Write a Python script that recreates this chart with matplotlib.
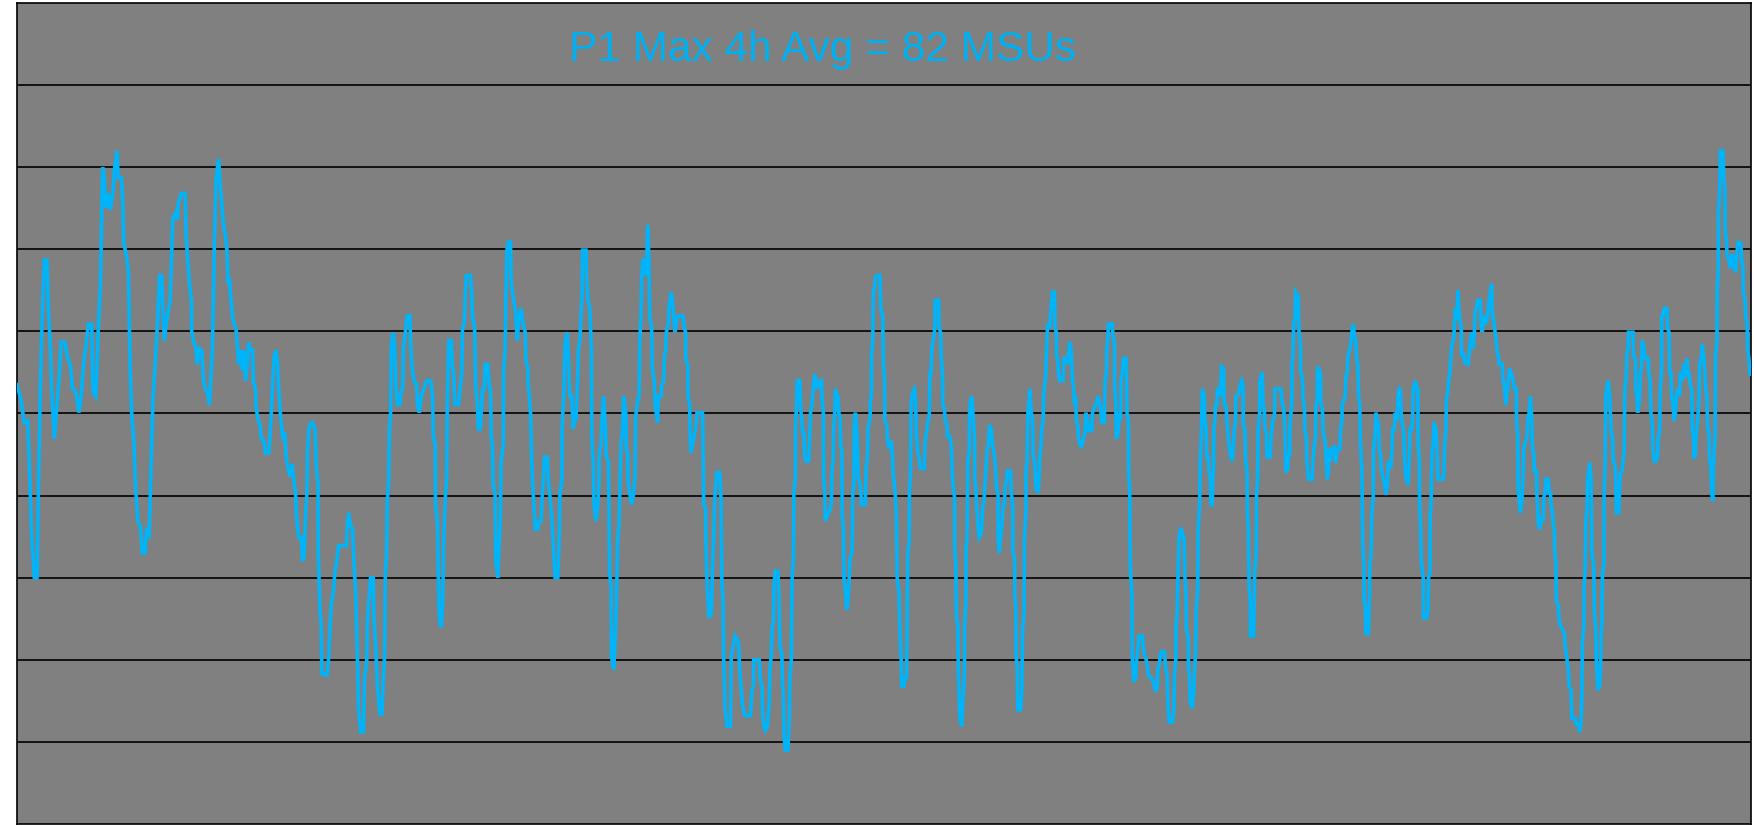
import matplotlib
matplotlib.use("Agg")
import matplotlib.pyplot as plt

# Hourly MSU consumption over the month (hour index, MSUs)
hours = [
    0, 1.7, 3.0, 4.4, 5.0, 6.1, 7.2, 8.3, 8.9, 9.7, 10.5, 11.3, 12.4, 13.0, 13.8, 14.4, 15.5, 16.3, 17.4, 18.3,
    19.9, 21.0, 22.1, 23.0, 24.3, 25.7, 26.6, 27.5, 28.8, 29.6, 31.0, 31.5, 32.6, 33.2, 33.7, 34.6, 35.1, 35.5,
    36.2, 36.8, 37.9, 38.7, 39.8, 40.4, 41.4, 42.0, 43.3, 43.8, 44.3, 45.4, 46.2, 46.9, 47.6, 48.4, 49.2, 50.1,
    51.2, 52.0, 53.1, 53.7, 54.8, 55.6, 56.4, 57.3, 58.4, 59.1, 60.0, 60.3, 61.1,
    61.4, 62.3, 63.5, 64.1, 64.6, 65.5, 65.9, 66.5, 66.9, 67.6, 68.0, 69.7, 70.1, 70.6, 71.5, 72.3, 72.4, 73.1,
    74.2, 74.7, 75.6, 76.6, 77.3, 78.1, 78.9, 79.8, 80.3, 81.0, 81.4, 81.8, 82.5, 83.1, 83.6, 84.2, 85.0, 85.6,
    86.4, 87.0, 87.5, 88.1, 88.6, 89.3, 90.0, 90.8, 91.4, 91.9, 92.5, 93.3, 94.1, 94.7, 95.5, 96.1, 96.6, 97.7,
    98.0, 98.9, 99.1, 100.0, 100.8, 101.3, 102.4, 103.0, 104.4, 104.9, 105.5, 106.0, 106.6, 107.4, 108.0, 108.5,
    109.4, 110.2, 111.0, 111.6, 112.4, 113.2, 114.1, 114.6, 115.5, 116.0, 116.8, 117.9, 118.4, 119.0, 119.6,
    120.2, 120.4, 121.0,
    121.3, 122.5, 123.6, 124.1, 124.8, 124.9, 125.6, 126.1, 126.4, 128.5, 129.2, 129.7, 130.3, 131.1, 131.9,
    132.6, 133.3, 136.6, 136.9, 137.5, 138.3, 139.1, 139.7, 140.5, 141.1, 141.6, 142.5, 143.6, 144.1, 145.0,
    145.2, 145.8, 146.6, 147.7, 148.0, 148.8, 149.4, 150.5, 151.3, 151.9, 152.4, 152.7, 153.2, 153.5, 154.1,
    154.4, 154.9, 155.2, 156.0, 156.6, 157.1, 157.7, 158.8, 159.1, 159.9, 160.2, 161.0, 161.8, 162.9, 163.2,
    163.8, 164.6, 165.7, 166.0, 166.8, 167.6, 168.7, 169.8, 171.5, 172.3, 172.6, 173.4, 173.5, 174.3, 174.5,
    175.1, 175.9, 176.5, 176.9, 177.6, 178.1, 178.4, 179.0, 180.1, 180.4, 181.0,
    181.4, 181.6, 183.0, 183.6, 184.4, 184.7, 185.5, 185.8, 186.3, 188.0, 188.6, 188.8, 189.7, 190.2, 190.8,
    191.3, 192.1, 193.0, 193.8, 194.1, 195.2, 195.7, 196.3, 196.6, 197.1, 197.4, 198.2, 198.5, 199.3, 199.9,
    200.4, 200.7, 201.6, 201.7, 202.4, 202.7, 203.2, 203.8, 204.6, 204.9, 205.7, 206.5, 206.8, 207.4, 208.2,
    209.0, 209.9, 210.7, 211.0, 211.8, 211.9, 212.3, 212.9, 213.4, 214.0, 214.6, 214.8, 215.9, 216.2, 217.3,
    217.6, 218.2, 218.7, 219.8, 220.4, 221.2, 222.0, 222.6, 223.1, 224.2, 224.8, 225.1, 225.9, 226.0, 226.7,
    227.3, 228.1, 228.7, 229.2, 230.0, 230.6, 231.1, 231.7, 232.3, 232.8, 233.4, 233.6, 234.2, 234.5, 235.9,
    236.1, 236.7, 237.5, 238.1, 238.3, 238.9, 239.2, 240.0,
    240.7, 241.3, 241.4, 242.1, 242.7, 243.2, 244.0, 244.3, 245.2, 245.4, 245.7, 246.3, 246.5, 247.4, 247.9,
    248.5, 249.0, 249.6, 249.9, 250.4, 251.0, 251.5, 252.4, 252.6, 253.2, 253.3, 254.0, 254.8, 255.7, 256.2,
    256.5, 257.3, 257.9, 258.2, 258.7, 259.0, 259.5, 260.4, 260.6, 260.9, 261.5, 262.0, 262.3, 263.1, 263.4,
    264.2, 264.5, 265.6, 265.9, 267.0, 267.3, 268.1, 268.4, 268.9, 269.2, 270.1, 270.3, 271.2, 271.7, 272.3,
    272.8, 273.6, 274.5, 276.1, 276.7, 277.2, 277.3, 278.1, 278.2, 278.9, 279.0, 279.5, 280.0, 280.8, 281.7,
    281.9, 284.2, 284.4, 284.7, 285.5, 285.6, 286.1, 286.9, 287.8, 288.3, 288.9, 289.4, 290.2, 291.4, 291.9,
    292.2, 292.7, 293.0, 293.6, 294.4, 295.8, 296.1, 296.9, 297.7, 299.1, 299.6,
    300.8, 301.7, 304.1, 304.7, 305.3, 305.4, 307.7, 308.3, 308.9, 309.1, 309.7, 310.2, 311.1, 311.9, 312.2,
    312.7, 313.0, 313.6, 313.8, 314.4, 315.5, 316.0, 316.3, 317.1, 317.4, 317.7, 318.0, 318.5, 319.6, 320.2,
    320.5, 321.0, 321.3, 321.9, 322.1, 322.7, 322.8, 323.2, 323.5, 324.6, 324.9, 325.4, 325.7, 326.3, 326.6,
    327.1, 328.2, 328.5, 329.0, 329.6, 330.1, 330.7, 331.3, 331.8, 332.6, 333.5, 333.7, 334.3, 334.4, 334.9,
    335.1, 336.0, 336.8, 337.6, 337.9, 338.4, 338.5, 339.0, 339.3, 339.8, 340.4, 340.7, 341.2, 341.5, 342.0,
    342.1, 342.6, 342.9, 343.4, 344.0, 344.5, 345.1, 345.4, 346.2, 346.5, 347.0, 347.1, 347.6, 348.1, 348.4,
    348.7, 349.2, 349.8, 350.1, 351.7, 352.0, 352.6, 352.8, 353.7, 353.8, 354.2, 354.3, 354.8, 355.0, 355.6,
    355.9, 356.4, 357.8, 358.1, 358.9, 359.2, 359.7, 359.8, 360.6, 360.9, 361.7,
    362.4, 363.0, 363.2, 364.1, 364.6, 364.9, 365.7, 366.0, 366.6, 366.8, 367.7, 367.9, 368.8, 369.1, 369.3,
    369.9, 370.0, 370.4, 370.7, 371.3, 372.1, 372.6, 372.9, 373.5, 374.0, 374.6, 376.2, 376.5, 377.1, 377.6,
    378.2, 378.5, 379.0, 379.3, 379.8, 380.4, 380.7, 382.1, 382.3, 382.9, 383.2, 383.7, 383.8, 384.5, 384.8,
    385.6, 385.7, 386.8, 387.3, 387.9, 388.7, 388.8, 389.2, 389.5, 390.1, 390.3, 390.9, 391.7, 392.3, 392.8,
    392.9, 393.4, 393.5, 393.9, 394.2, 394.8, 394.9, 395.3, 395.9, 396.4, 397.0, 397.1, 397.5, 397.8, 398.4,
    398.9, 399.8, 400.3, 400.9, 401.1, 401.7, 402.2, 402.8, 403.1, 403.9, 404.5, 405.3, 405.8, 406.1, 406.7,
    406.8, 407.2, 407.8, 408.3, 408.9, 409.4, 409.7, 410.3, 410.5, 411.9, 412.2, 412.8, 412.9, 413.6, 413.7,
    414.1, 414.2, 414.7, 414.9, 416.1, 416.6, 416.9, 417.5, 417.7, 418.3, 418.4, 418.8, 419.1, 419.7, 419.9,
    420.5, 421.1, 421.3, 421.9, 422.4,
    422.6, 423.2, 423.7, 424.0, 424.6, 424.8, 425.4, 425.7, 426.5, 426.8, 427.3, 428.1, 428.7, 429.3, 430.1,
    430.4, 430.9, 431.0, 431.5, 431.7, 432.3, 433.7, 433.9, 435.1, 435.6, 436.4, 437.0, 437.6, 438.1, 438.4,
    438.9, 439.2, 439.8, 440.0, 440.6, 441.4, 442.3, 442.8, 443.1, 443.9, 444.2, 445.6, 445.9, 446.7, 447.5,
    448.1, 448.9, 449.4, 449.7, 450.8, 451.1, 451.7, 451.8, 452.2, 452.5, 454.1, 454.4, 455.0, 455.1, 455.5,
    455.8, 456.6, 456.9, 457.5, 457.7, 458.3, 458.6, 459.9, 460.2, 460.8, 460.9, 461.3, 461.6, 462.2, 462.4,
    463.0, 463.8, 464.1, 464.7, 465.2, 466.6, 467.1, 467.7, 468.2, 468.8, 469.1, 470.2, 470.7, 471.6, 472.1,
    472.7, 472.9, 473.5, 474.1, 474.6, 475.7, 476.3, 476.8, 477.1, 477.7, 479.0, 479.6, 479.9, 480.4, 480.5,
    481.0, 481.3, 481.8, 482.4,
    482.8, 483.4, 483.9, 484.2, 484.7, 484.8, 485.6, 485.7, 486.1, 486.4, 487.2, 487.8, 488.1, 488.6, 488.9,
    489.5, 489.7, 490.3, 490.6, 491.1, 491.4, 492.2, 492.5, 493.0, 493.3, 493.9, 494.2, 494.7, 495.0, 495.5,
    495.8, 496.1, 496.2, 496.6, 496.9, 497.5, 497.7, 498.6, 498.9, 499.4, 500.2, 500.5, 501.3, 501.6, 502.2,
    502.5, 503.0, 503.6, 504.1, 504.7, 505.2, 505.3, 506.3, 507.2, 507.7, 508.3, 508.4, 509.1, 509.4, 510.0,
    510.1, 510.5, 510.8, 511.3, 511.4, 512.7, 513.0, 513.2, 513.8, 513.9, 514.3, 514.6, 515.2, 515.3, 515.7,
    516.3, 516.6, 517.1, 517.4, 518.0, 518.2, 519.6, 519.9, 520.4, 520.5, 521.3, 521.5, 524.0, 524.6, 525.1,
    525.7, 526.0, 526.8, 527.1, 527.6, 527.9, 528.5, 528.6, 529.0, 529.3, 529.8, 530.1, 531.2, 531.5, 532.1,
    532.2, 532.9, 533.2, 533.7, 534.0, 534.6, 534.7, 535.1, 535.4, 537.0, 537.3, 537.9, 538.4, 538.5, 539.0,
    539.2, 540.4, 540.6, 541.2, 541.5, 542.3, 542.8,
    543.2, 543.7, 544.0, 544.6, 545.1, 546.2, 546.8, 547.3, 548.5, 548.7, 549.3, 549.4, 550.1, 550.7, 550.9,
    551.5, 551.8, 552.6, 553.1, 553.4, 554.0, 554.5, 555.1, 555.4, 555.9, 556.2, 556.7, 557.0, 557.6, 557.9,
    558.4, 558.5, 559.0, 559.2, 560.3, 560.6, 560.9, 561.4, 561.7, 562.3, 562.4, 563.1, 563.4, 564.0, 564.5,
    564.8, 565.3, 565.6, 566.2, 567.0, 567.5, 568.1, 568.6, 569.5, 570.0, 570.3, 571.1, 571.4, 572.2, 572.5,
    573.1, 573.6, 573.9, 574.5, 575.0, 575.3, 575.8, 576.7, 577.2, 577.5, 578.3, 578.6, 578.9, 579.7, 580.3,
    580.8, 580.9, 581.4, 581.5, 581.9, 582.2, 583.0, 583.1, 584.4, 585.0, 585.2, 585.8, 585.9, 586.3, 586.6,
    587.2, 587.4, 588.3, 588.6, 588.8, 589.1, 591.3, 591.6, 591.9, 592.4, 592.7, 593.3, 593.5, 594.1, 594.4,
    594.9, 595.5, 595.8, 596.3, 596.9, 597.4, 598.0, 598.8, 598.9, 599.6, 600.2, 601.6,
    602.6, 603.1, 603.7, 604.2, 604.5, 605.0, 605.6, 606.7, 607.0, 607.5, 608.1, 609.2, 609.8, 610.3, 610.9,
    611.4, 611.7, 612.2, 612.8, 613.3, 613.6, 614.2, 614.5, 615.8, 616.1, 616.7, 617.2, 617.8, 618.3, 618.9,
    619.4, 620.3, 620.8, 621.6, 621.7, 622.2, 622.3, 622.8, 623.3, 623.9, 624.4, 624.7, 625.5, 626.1, 626.3,
    626.9, 627.5, 628.0, 628.3, 628.8, 629.1, 630.0, 630.1, 630.5, 630.8, 631.3, 632.2, 632.7, 633.0, 633.5,
    633.8, 634.9, 635.2, 635.8, 636.0, 636.6, 636.9, 637.4, 637.5, 638.0, 638.2, 639.1, 639.2, 639.6, 639.9,
    640.7, 641.6, 641.8, 642.4, 642.7, 643.2, 643.5, 644.3, 644.6, 646.0, 646.3, 647.4, 647.9, 648.5, 648.8,
    649.0, 649.6, 649.7, 650.1, 650.4, 650.9, 651.2, 652.1, 652.6, 652.9, 653.7, 654.0, 654.6, 654.8, 655.4,
    656.2, 656.5, 656.8, 657.1, 657.3, 657.9, 658.0, 658.4, 658.7, 659.3, 659.8, 660.4, 660.9, 661.5, 661.8,
    662.6, 662.9, 663.1,
    664.1, 664.4, 664.7, 665.5, 665.8, 666.3, 666.6, 667.2, 667.5, 668.0, 668.1, 670.0, 670.1, 671.0, 671.1,
    671.6, 671.9, 672.7, 673.0, 673.5, 673.8, 674.6, 674.9, 676.3, 676.6, 677.1, 677.4, 678.0, 678.2, 678.8,
    679.6, 680.2, 680.5, 681.0, 681.3, 681.8, 681.9, 682.4, 682.9, 684.1, 684.3, 684.9, 685.2, 685.7, 686.0,
    686.5, 687.1, 687.6, 687.9, 688.5, 689.3, 689.6, 690.4, 691.0, 691.8, 692.3, 692.6, 693.2, 693.7, 694.3,
    694.6, 695.1, 695.2, 695.7, 696.0, 696.5, 696.8, 697.3, 697.6, 698.4, 698.7, 699.3, 699.8, 700.1, 700.6,
    700.9, 701.5, 701.7, 702.3, 702.6, 703.1, 703.4, 704.0, 704.2, 704.8, 704.9, 705.3, 705.4, 705.9, 706.2,
    707.3, 707.6, 708.1, 708.2, 708.7, 709.0, 709.8, 710.3, 710.9, 711.4, 712.0, 712.5, 713.1, 713.6, 714.7,
    715.0, 715.6, 715.7, 716.4, 716.7, 717.3, 717.5, 718.1, 718.4, 718.9,
]

msus = [
    53.5, 51.6, 48.9, 49.1, 45.0, 34.9, 30.0, 30.0, 41.3, 53.5, 62.4, 68.7, 68.7, 62.8, 58.4, 52.6, 46.9, 50.1, 54.0, 58.7,
    58.7, 56.7, 56.0, 53.0, 52.8, 50.1, 52.1, 55.7, 58.9, 60.9, 60.9, 52.6, 52.1, 56.0, 60.4, 65.8, 73.6, 80.0,
    78.7, 75.1, 76.8, 74.8, 77.0, 79.7, 82.0, 78.7, 78.7, 76.1, 70.7, 69.2, 67.2, 55.5, 49.6, 46.9, 40.8, 36.9,
    36.2, 33.0, 33.0, 35.7, 35.2, 44.2, 52.1, 56.0, 61.9, 66.8, 66.8, 63.8, 58.9,
    59.9, 61.9, 63.8, 69.2, 73.9, 73.9, 74.8, 73.6, 75.8, 76.1, 76.8, 76.8, 72.1, 69.4, 65.8, 63.8, 60.1, 58.9,
    57.9, 56.0, 57.9, 57.7, 54.0, 53.0, 52.6, 51.1, 54.0, 57.9, 63.8, 70.2, 78.5, 80.0, 81.0, 78.0, 75.1, 73.1,
    71.7, 70.2, 65.8, 66.5, 64.3, 61.9, 60.9, 60.4, 57.9, 56.0, 57.7, 55.3, 57.7, 54.0, 56.0, 58.7, 57.7, 57.7,
    53.8, 53.0, 50.8, 49.1, 48.6, 46.9, 46.7, 45.2, 45.2, 47.2, 50.6, 54.0, 57.0, 57.7, 56.0, 53.0,
    49.1, 47.2, 47.7, 44.7, 43.3, 42.3, 43.8, 42.3, 40.3, 36.9, 34.9, 34.9, 32.0, 32.5, 37.4,
    40.3, 45.2, 48.1,
    48.6, 48.9, 48.1, 43.3, 41.3, 33.0, 26.1, 24.2, 18.3, 18.1, 20.2, 23.7, 26.9, 28.1, 31.0,
    32.0, 33.9, 33.9, 36.2, 37.9, 36.4, 35.9, 32.0, 27.6, 20.7, 13.9, 11.2, 11.2, 17.8, 19.8,
    24.2, 26.9, 30.0, 30.0, 25.1, 21.2, 16.8, 13.4, 13.4, 17.8, 20.3, 30.5, 32.5, 39.3, 41.8,
    48.1, 50.1, 58.4, 59.9, 57.9, 53.5, 51.1, 51.1, 52.6, 53.0, 57.9, 59.9, 61.9, 61.9, 58.4,
    55.5, 54.0, 53.5, 51.1, 50.1, 52.1, 53.0, 54.0, 54.0, 52.1, 47.2, 46.2, 38.9, 36.9, 32.0,
    25.1, 23.9, 27.1, 34.4, 39.8, 41.8, 51.1, 58.9, 58.9, 56.0, 55.0,
    52.1, 51.1, 51.1, 52.6, 55.0, 60.4, 61.1, 64.3, 66.8, 66.8, 64.3, 61.9, 60.4, 53.0, 51.6,
    48.1, 48.1, 53.0, 53.0, 56.0, 56.0, 53.5, 53.0, 47.2, 46.2, 41.3, 40.3, 32.0, 30.0, 33.9,
    37.4, 44.2, 46.2, 55.0, 57.9, 64.3, 70.2, 70.9, 70.9, 65.8, 64.3, 62.8, 61.9, 58.9, 61.9,
    62.8, 60.9, 59.9, 56.5, 55.5, 53.5, 52.6, 50.1, 44.2, 40.3, 37.4, 35.9, 35.9, 36.9, 36.9,
    39.3, 42.3, 44.7, 44.7, 41.3, 39.3, 35.9, 32.5, 30.0, 30.0, 34.9, 40.3, 41.8, 48.1, 52.6,
    58.9, 59.9, 56.0, 52.1, 52.1, 48.1, 50.1, 49.1, 53.0, 57.9, 58.9, 60.4, 64.3, 69.9, 69.9,
    66.8, 63.8, 62.8, 57.9, 47.2, 44.2, 38.9, 36.9,
    38.4, 41.8, 45.2, 46.2, 50.1, 52.1, 48.1, 44.7, 44.2, 39.3, 30.5, 29.1, 20.3, 18.8, 21.7,
    26.6, 34.4, 36.4, 40.3, 46.2, 47.7, 52.1, 50.1, 45.7, 45.2, 41.8, 40.3, 38.9, 40.3, 42.3,
    49.6, 51.6, 52.1, 58.9, 61.9, 66.8, 68.7, 68.7, 67.0, 66.8, 72.9, 68.7, 61.9, 60.4, 55.5,
    54.0, 51.1, 48.9, 52.1, 52.1, 53.5, 54.0, 57.0, 57.5, 59.9, 60.9, 62.8, 64.8, 63.8, 61.9,
    59.9, 61.6, 61.9, 61.9, 60.4, 59.9, 56.5, 56.0, 52.1, 51.1, 47.7, 45.2, 46.2, 47.2, 49.1,
    50.1, 50.1, 47.2, 38.9, 38.4, 34.9, 29.1, 25.1, 25.6, 30.5, 35.9, 40.3, 42.8, 42.8, 39.3,
    30.0, 27.1, 19.8, 13.9, 11.9, 11.9, 20.3, 21.7, 22.9, 22.2, 18.8,
    14.4, 13.2, 13.2, 16.3, 16.8, 20.0, 20.0, 17.3, 16.8, 13.4, 11.9, 11.4, 11.9, 14.9, 19.3,
    20.3, 23.7, 24.6, 29.1, 30.8, 30.8, 26.6, 21.7, 20.7, 16.8, 16.1, 10.9, 9.0, 9.0, 12.9,
    18.3, 19.8, 29.6, 32.5, 40.3, 42.3, 48.6, 51.1, 54.0, 54.0, 50.6, 49.1, 47.7, 47.7, 44.7,
    44.2, 44.2, 46.2, 50.1, 51.1, 53.0, 54.8, 54.0, 53.0, 53.8, 54.0, 52.1, 50.1, 42.3, 40.3,
    36.9, 37.6, 38.1, 38.9, 43.3, 44.2, 48.1, 49.6, 53.0, 52.1, 52.1, 50.1, 49.6, 46.2, 45.2,
    37.9, 35.9, 29.6, 28.6, 26.1, 27.1, 30.5, 32.5, 33.0, 40.3, 41.8, 48.6, 50.1, 48.1, 46.2,
    42.3, 41.8, 40.8, 38.9, 38.9, 43.3, 44.7, 48.1, 49.6, 51.6, 52.1, 57.0, 58.9, 64.8, 65.3,
    66.5, 66.8, 66.8, 62.8, 61.9, 56.0, 54.0, 49.1, 48.6, 46.7, 45.7,
    46.7, 44.7, 42.8, 40.3, 37.4, 30.0, 28.1, 23.7, 19.8, 16.8, 16.8, 17.8, 17.8, 27.6, 33.0,
    34.4, 40.8, 42.3, 51.1, 52.6, 53.0, 51.1, 47.2, 45.2, 44.7, 43.3, 43.3, 46.7, 47.7, 49.1,
    49.6, 55.0, 55.0, 57.9, 58.9, 59.9, 63.8, 63.8, 60.4, 59.9, 56.5, 55.0, 51.1, 50.6, 49.1,
    48.6, 47.2, 47.2, 46.2, 41.8, 39.8, 33.0, 32.0, 25.1, 24.2, 18.3, 12.9, 11.9, 15.8, 18.3,
    24.2, 27.1, 33.5, 34.9, 44.2, 45.7, 50.1, 51.6, 52.1, 49.6, 47.2, 41.8, 41.3, 38.9, 36.4,
    34.9, 35.4, 38.4, 39.3, 40.3, 43.3, 45.7, 46.2, 48.6, 48.1, 46.2, 44.7, 42.8, 40.8, 40.3,
    34.9, 33.0, 34.9, 36.4, 38.9, 38.9, 41.3, 41.8, 43.0, 43.0, 40.3, 38.9, 33.0, 32.5, 27.6,
    26.6, 20.7, 18.8, 13.9, 13.9, 16.8, 23.7, 25.6, 34.9, 37.9, 43.3, 44.2, 50.1, 52.1, 53.0,
    50.1, 49.1, 44.7, 44.2, 41.3,
    40.8, 40.3, 41.8, 44.7, 46.2, 48.1, 49.1, 52.6, 54.5, 57.5, 60.9, 60.4, 62.8, 64.8, 64.8,
    60.4, 59.9, 57.0, 56.5, 55.0, 54.0, 54.0, 56.7, 56.7, 56.0, 58.7, 57.9, 54.0, 53.0, 51.1,
    52.1, 49.1, 48.6, 47.2, 46.2, 46.0, 47.2, 47.7, 50.1, 49.1, 47.9, 47.9, 50.1, 50.8, 51.1,
    52.1, 51.1, 50.1, 48.9, 48.9, 54.0, 55.0, 57.9, 58.9, 60.9, 60.9, 59.4, 58.7, 53.0, 51.6,
    46.9, 47.7, 50.1, 49.1, 54.0, 55.0, 56.7, 56.7, 50.1, 49.1, 42.8, 40.8, 31.0, 28.1, 20.3,
    17.3, 17.8, 19.8, 21.2, 22.9, 22.9, 21.2, 20.3, 20.0, 18.8, 18.1, 17.8, 17.6, 16.8, 16.1,
    16.8, 18.8, 19.3, 20.7, 21.0, 21.0, 18.8, 18.3, 14.9, 12.4, 12.4, 13.9, 18.3, 19.8, 24.2,
    25.6, 30.0, 34.9, 35.9,
    35.9, 34.9, 34.9, 30.0, 28.1, 23.7, 22.7, 18.8, 18.3, 14.9, 14.1, 15.8, 18.3, 20.7, 26.1,
    28.6, 35.9, 38.9, 44.7, 48.1, 53.0, 52.1, 49.1, 48.1, 44.7, 44.7, 42.8, 42.3, 38.9, 38.9,
    42.3, 43.3, 48.1, 49.1, 51.1, 51.1, 53.0, 53.0, 52.1, 55.7, 55.5, 51.1, 50.8, 49.1, 47.2,
    46.2, 45.2, 44.2, 45.2, 48.1, 49.1, 52.1, 52.3, 53.5, 54.0, 53.5, 48.6, 48.1, 44.2, 42.8,
    37.9, 35.9, 29.1, 27.1, 22.9, 22.9, 27.6, 31.0, 33.0, 40.3, 41.8, 48.1, 50.1, 54.0, 54.5,
    55.0, 51.1, 50.6, 48.1, 47.7, 44.7, 44.7, 47.2, 48.1, 49.1, 49.6, 53.0, 53.0, 51.1, 50.8,
    48.1, 42.8, 43.3, 45.2, 44.7, 49.1, 51.1, 56.0, 57.0, 61.1, 61.4, 64.8, 64.3, 59.9, 58.4,
    55.0, 54.5, 51.6, 51.1, 47.7, 47.2, 44.2, 43.3, 42.0, 42.0, 44.2, 46.2, 47.2, 51.1, 51.6,
    55.7, 55.0, 51.1, 50.6, 47.7, 46.7, 44.2,
    42.0, 42.8, 45.7, 44.2, 45.7, 45.9, 44.0, 45.7, 45.7, 48.1, 49.1, 51.1, 51.6, 52.1, 54.5,
    55.0, 57.0, 57.9, 58.7, 59.9, 60.9, 59.4, 58.9, 56.5, 56.0, 52.1, 51.1, 46.2, 42.8, 34.4,
    31.5, 27.1, 26.6, 23.2, 23.2, 26.6, 31.5, 33.0, 37.9, 39.8, 45.7, 47.7, 50.1, 49.1, 48.6,
    45.7, 45.2, 43.3, 42.3, 41.3, 40.1, 41.3, 44.2, 43.3, 45.2, 48.1, 48.1, 50.1, 49.1, 52.1,
    53.0, 52.8, 49.6, 48.6, 47.2, 44.2, 42.3, 41.3, 44.2, 48.1, 48.1, 49.6, 53.0, 54.0, 53.0,
    53.0, 46.2, 44.2, 38.9, 36.4, 32.0, 30.0, 25.1, 25.1, 25.9, 30.0, 30.5, 37.4, 39.8, 45.2,
    46.7, 48.9, 48.1, 46.2, 44.7, 42.0, 42.0, 43.0, 46.2, 48.1, 52.1, 52.6, 54.0, 55.0, 56.5,
    58.4, 58.9, 59.9, 62.8, 61.4, 65.0, 61.9, 60.4, 57.0, 57.5, 56.2, 56.0,
    58.9, 59.9, 57.9, 59.9, 62.3, 62.8, 63.8, 63.8, 60.9, 59.9, 61.9, 60.9, 62.3, 63.8, 64.8,
    65.8, 61.9, 61.4, 59.9, 58.9, 57.5, 57.0, 56.0, 56.0, 54.0, 53.5, 51.1, 52.6, 54.0, 55.5,
    55.0, 54.0, 53.0, 53.0, 49.1, 47.2, 41.3, 39.3, 37.9, 39.3, 42.3, 45.7, 46.7, 47.2, 49.1,
    50.1, 52.1, 49.1, 45.7, 45.2, 43.0, 43.0, 40.3, 38.4, 36.4, 35.9, 37.4, 36.9, 39.8, 40.3,
    42.0, 42.0, 40.3, 40.3, 38.9, 37.9, 36.4, 35.9, 33.0, 32.0, 27.1, 26.6, 25.1, 24.6, 24.2,
    23.7, 23.2, 21.7, 20.7, 19.8, 18.8, 16.8, 16.3, 12.9, 12.9, 12.2, 12.2, 11.2, 12.9, 15.8,
    22.2, 24.2, 29.1, 30.5, 36.9, 38.4, 42.3, 44.0, 41.8, 33.0, 31.5, 25.6, 23.7, 19.8, 16.3,
    16.8, 18.8, 23.2, 24.6, 30.5, 31.5, 40.3, 43.3, 52.1, 53.5, 54.0, 51.6, 47.7, 47.2, 44.2,
    43.7, 40.8, 37.9,
    37.9, 40.8, 42.8, 43.0, 44.2, 45.2, 53.0, 54.5, 57.5, 57.9, 59.9, 59.9, 57.0, 56.7, 53.0,
    52.1, 50.1, 51.6, 55.0, 55.5, 58.9, 57.9, 56.7, 56.7, 54.5, 54.0, 50.1, 48.6, 45.7, 44.2,
    44.2, 45.2, 47.2, 47.7, 53.0, 55.0, 61.9, 61.9, 62.8, 62.8, 60.4, 59.9, 55.0, 55.0, 52.1,
    51.1, 49.1, 50.1, 52.1, 53.0, 52.1, 55.0, 54.0, 56.0, 54.5, 56.7, 55.0, 55.0, 53.5, 53.0,
    47.7, 47.2, 44.7, 44.7, 46.7, 48.6, 49.1, 51.6, 56.0, 57.0, 58.4, 57.0, 55.0, 53.0, 52.1,
    48.1, 47.7, 44.7, 43.3, 40.3, 39.3, 44.2, 47.2, 57.0, 58.9, 65.3, 67.2, 74.6, 77.0, 82.0,
    82.0, 78.5, 77.5, 72.1, 71.2, 69.2, 68.7, 67.7, 69.2, 69.2, 67.7, 67.2, 69.7, 70.9, 70.7,
    68.7, 67.7, 64.8, 63.8, 61.9, 60.9, 57.9, 56.5, 54.8, 54.8,
]

# Horizontal reference levels drawn as gridlines
grid_levels = [10, 20, 30, 40, 50, 60, 70, 80, 90]
max_4h_avg = 82
title_text = f"P1 Max 4h Avg = {max_4h_avg} MSUs"

LINE_BLUE = "#00B4FA"
TITLE_BLUE = "#00B0F0"

fig = plt.figure(figsize=(17.54, 8.25), dpi=100, facecolor="white")
ax = fig.add_axes([17 / 1754, 1 / 825, 1734 / 1754, 821 / 825])
ax.set_facecolor("#808080")

ax.plot(hours, msus, color=LINE_BLUE, lw=2.6, solid_joinstyle="miter", zorder=3)

ax.set_xlim(0, hours[-1])
ax.set_ylim(0, 100)
ax.set_xticks([])
ax.set_yticks(grid_levels)
ax.tick_params(axis="y", length=0, labelleft=False)
ax.grid(axis="y", color="black", lw=1.2)
ax.set_axisbelow(True)
for sp in ax.spines.values():
    sp.set_color("black")
    sp.set_linewidth(1.2)

ax.text(0.4645, 0.929, title_text, transform=ax.transAxes, ha="center", va="baseline",
        color=TITLE_BLUE, fontsize=30.5, family=["Liberation Sans", "DejaVu Sans"])

fig.savefig("out.png", dpi=100, facecolor="white")
